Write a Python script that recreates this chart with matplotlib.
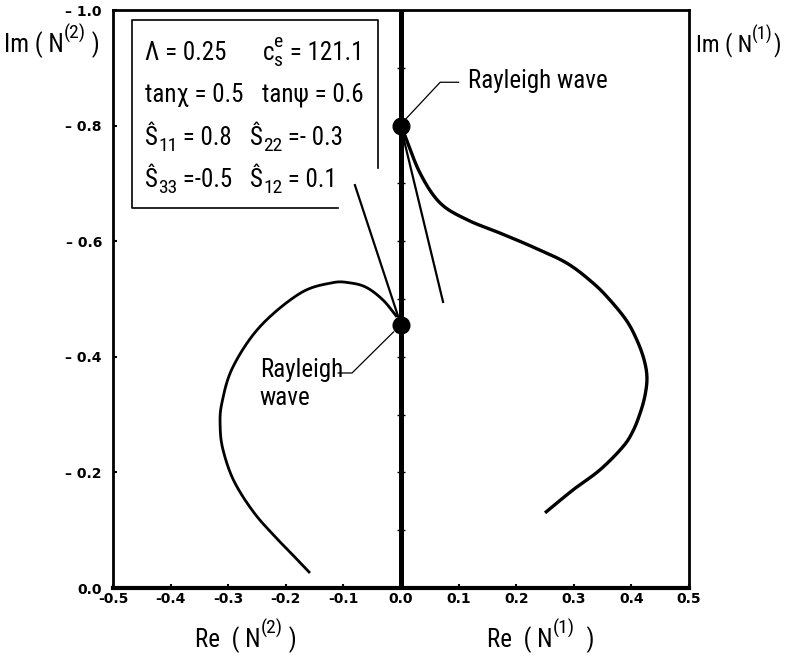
import matplotlib
matplotlib.use("Agg")
import matplotlib.pyplot as plt
import matplotlib.font_manager as fm
from matplotlib.font_manager import FontProperties
import matplotlib.transforms as mtransforms
import numpy as np

# Locus of N(2) (left branch) and N(1) (right branch)
re_n2 = [-0.158, -0.179, -0.215, -0.255, -0.290, -0.309, -0.314, -0.311, -0.292,
         -0.245, -0.175, -0.120, -0.089, -0.060, -0.031, -0.007]
im_n2 = [0.026, 0.048, 0.085, 0.130, 0.185, 0.239, 0.280, 0.320, 0.382,
         0.452, 0.510, 0.528, 0.528, 0.520, 0.498, 0.469]

re_n1 = [0.004, 0.033, 0.068, 0.115, 0.172, 0.229, 0.288, 0.333, 0.363, 0.392,
         0.410, 0.422, 0.427, 0.424, 0.416, 0.403, 0.385, 0.345, 0.299, 0.250]
im_n1 = [0.790, 0.718, 0.666, 0.637, 0.614, 0.590, 0.562, 0.528, 0.498, 0.462,
         0.428, 0.395, 0.365, 0.335, 0.305, 0.272, 0.244, 0.204, 0.170, 0.130]

# Rayleigh wave points on the imaginary axis
rayleigh_re = [0.0, 0.0]
rayleigh_im = [0.80, 0.455]

# Straight tangent segments
tan_left_re = [-0.080, -0.005]
tan_left_im = [0.697, 0.470]
tan_right_re = [0.004, 0.073]
tan_right_im = [0.780, 0.495]

xticks = [-0.5, -0.4, -0.3, -0.2, -0.1, 0.0, 0.1, 0.2, 0.3, 0.4, 0.5]
xtick_labels = ['-0.5', '-0.4', '-0.3', '-0.2', '-0.1', '0.0', '0.1', '0.2', '0.3', '0.4', '0.5']
yticks = [0.0, 0.2, 0.4, 0.6, 0.8, 1.0]
ytick_labels = ['0.0', '\u2013 0.2', '\u2013 0.4', '\u2013 0.6', '\u2013 0.8', '\u2013 1.0']
axis_marks = [0.1, 0.2, 0.3, 0.4, 0.5, 0.6, 0.7, 0.8, 0.9]


# pick a narrow face for the annotation lettering
def pick_font():
    entries = fm.fontManager.ttflist
    names = {f.name for f in entries}
    for nm in ['Roboto Condensed', 'Liberation Sans Narrow', 'Open Sans Condensed',
               'Noto Sans Condensed', 'DejaVu Sans Condensed']:
        if nm in names:
            return FontProperties(family=nm), True
    for f in entries:
        if f.name == 'DejaVu Sans' and 'ondensed' in f.fname and 'Bold' not in f.fname \
                and 'Oblique' not in f.fname:
            return FontProperties(fname=f.fname), True
    return FontProperties(family='Roboto'), False


FP, NARROW = pick_font()
FS = 18 if NARROW else 15


def smooth(xs, ys, n=400):
    xs = np.asarray(xs); ys = np.asarray(ys)
    d = np.hypot(np.diff(xs), np.diff(ys))
    t = np.concatenate([[0], np.cumsum(d)])
    tt = np.linspace(0, t[-1], n)
    px = np.concatenate([[2*xs[0]-xs[1]], xs, [2*xs[-1]-xs[-2]]])
    py = np.concatenate([[2*ys[0]-ys[1]], ys, [2*ys[-1]-ys[-2]]])
    outx, outy = [], []
    for v in tt:
        i = min(np.searchsorted(t, v, side='right') - 1, len(xs) - 2)
        u = (v - t[i]) / (t[i+1] - t[i])
        def cr(a, b, c, e):
            return 0.5*((2*b) + (-a+c)*u + (2*a-5*b+4*c-e)*u**2 + (-a+3*b-3*c+e)*u**3)
        outx.append(cr(px[i], px[i+1], px[i+2], px[i+3]))
        outy.append(cr(py[i], py[i+1], py[i+2], py[i+3]))
    return np.array(outx), np.array(outy)


fig = plt.figure(figsize=(7.92, 6.58), dpi=100)
renderer = fig.canvas.get_renderer()
ax = fig.add_axes([113/792, 70/658, 576/792, 578/658])
ax.set_xlim(-0.5, 0.5)
ax.set_ylim(0.0, 1.0)


def rich(x, y, parts, transform, size=FS):
    """Draw a run of text pieces; kind 'n' normal, 'sub', 'sup', 'supsub'."""
    dx = 0.0
    for s, kind in parts:
        if kind == 'n':
            off, sz = 0.0, size
        elif kind == 'sub':
            off, sz = -0.32 * size, 0.78 * size
        elif kind == 'sup':
            off, sz = 0.45 * size, 0.78 * size
        if kind == 'supsub':
            sup, sub = s
            sz = 0.78 * size
            tr1 = mtransforms.offset_copy(transform, fig=fig, x=dx, y=0.45 * size, units='points')
            tr2 = mtransforms.offset_copy(transform, fig=fig, x=dx, y=-0.32 * size, units='points')
            t1 = fig.text(x, y, sup, transform=tr1, fontproperties=FP, fontsize=sz, va='center')
            t2 = fig.text(x, y, sub, transform=tr2, fontproperties=FP, fontsize=sz, va='center')
            w = max(t1.get_window_extent(renderer).width, t2.get_window_extent(renderer).width)
            dx += w * 72 / fig.dpi
            continue
        tr = mtransforms.offset_copy(transform, fig=fig, x=dx, y=off, units='points')
        t = fig.text(x, y, s, transform=tr, fontproperties=FP, fontsize=sz, va='center')
        dx += t.get_window_extent(renderer).width * 72 / fig.dpi


for s in ax.spines.values():
    s.set_linewidth(2.0)
ax.spines['bottom'].set_linewidth(3.0)

# imaginary axis with small graduation marks
ax.axvline(0.0, color='black', lw=3.6, zorder=3)
ax.plot([0.0] * len(axis_marks), axis_marks, linestyle='none', marker='_',
        ms=6, mew=1.0, color='black', zorder=3)

x, y = smooth(re_n2, im_n2)
ax.plot(x, y, color='black', lw=2.0, solid_capstyle='butt')
x, y = smooth(re_n1, im_n1)
ax.plot(x, y, color='black', lw=2.4, solid_capstyle='butt')

ax.plot(tan_left_re, tan_left_im, color='black', lw=1.6)
ax.plot(tan_right_re, tan_right_im, color='black', lw=1.6)

ax.plot(rayleigh_re, rayleigh_im, 'o', color='black', ms=12, zorder=5)

ax.set_xticks(xticks)
ax.set_xticklabels(xtick_labels, fontfamily='DejaVu Sans', fontweight='bold', fontsize=10)
ax.set_yticks(yticks)
ax.set_yticklabels(ytick_labels, fontfamily='DejaVu Sans', fontweight='bold', fontsize=10)
ax.tick_params(direction='in', length=3, width=1.5)
ax.tick_params(axis='x', pad=3)
ax.tick_params(axis='y', pad=8)

# parameter box, open at the lower right corner where the tangent passes
bx0, bx1, by0, by1 = -0.467, -0.040, 0.657, 0.983
ax.plot([-0.110, bx0, bx0, bx1, bx1], [by0, by0, by1, by1, 0.726], color='black', lw=1.2)

T = ax.transData
c1, c2 = -0.444, -0.252
rich(c1, 0.926, [('\u039b = 0.25', 'n')], T)
rich(c2 + 0.012, 0.926, [('c', 'n'), (('e', 's'), 'supsub'), (' = 121.1', 'n')], T)
rich(c1, 0.853, [('tan\u03c7 = 0.5', 'n')], T)
rich(c2 + 0.010, 0.853, [('tan\u03c8 = 0.6', 'n')], T)
rich(c1, 0.778, [('\u015c', 'n'), ('11', 'sub'), (' = 0.8', 'n')], T)
rich(c2 - 0.010, 0.778, [('\u015c', 'n'), ('22', 'sub'), (' =- 0.3', 'n')], T)
rich(c1, 0.706, [('\u015c', 'n'), ('33', 'sub'), (' =-0.5', 'n')], T)
rich(c2 - 0.010, 0.706, [('\u015c', 'n'), ('12', 'sub'), (' = 0.1', 'n')], T)

# Rayleigh wave annotations
ax.plot([0.007, 0.068, 0.100], [0.810, 0.875, 0.875], color='black', lw=0.9)
rich(0.116, 0.878, [('Rayleigh wave', 'n')], T)
ax.plot([-0.013, -0.085, -0.109], [0.443, 0.372, 0.372], color='black', lw=0.9)
rich(-0.245, 0.377, [('Rayleigh', 'n')], T)
rich(-0.245, 0.328, [('wave', 'n')], T)

# axis titles
F = fig.transFigure
rich(4/792, 1 - 45/658, [('Im ( N', 'n'), ('(2)', 'sup'), (' )', 'n')], F)
rich(696/792, 1 - 45/658, [('Im ( N', 'n'), ('(1)', 'sup'), (')', 'n')], F, size=17)
rich(195/792, 1 - 640/658, [('Re  ( N', 'n'), ('(2)', 'sup'), (' )', 'n')], F)
rich(487/792, 1 - 640/658, [('Re  ( N', 'n'), ('(1)', 'sup'), ('  )', 'n')], F)

fig.savefig('out.png', dpi=100)
